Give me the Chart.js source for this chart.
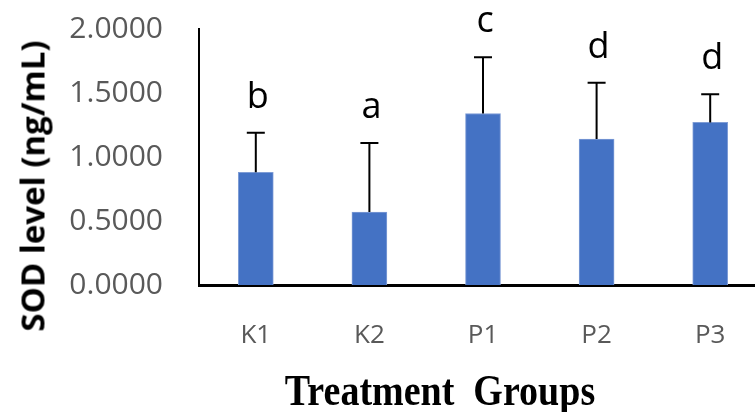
<!DOCTYPE html>
<html>
<head>
<meta charset="utf-8">
<script src="https://cdn.jsdelivr.net/npm/chart.js@4.4.1/dist/chart.umd.min.js"></script>
<style>
  html, body { margin: 0; padding: 0; background: #fff; }
  #wrap { position: relative; width: 755px; height: 412px; overflow: hidden; }
  #c { position: absolute; left: 0; top: 0; }
  .ytitle {
    position: absolute; left: 32px; top: 186px;
    transform: translate(-50%, -50%) rotate(-90deg);
    font-family: "Open Sans", sans-serif; font-weight: bold; font-size: 33px;
    color: #000; white-space: pre; line-height: 1;
  }
  .xtitle {
    position: absolute; left: 440px; top: 390px;
    transform: translate(-50%, -50%) scaleY(1.15);
    font-family: "Liberation Serif", "Times New Roman", serif; font-weight: bold; font-size: 38px;
    color: #000; white-space: pre; line-height: 1;
  }
</style>
</head>
<body>
<div id="wrap">
  <canvas id="c" width="770" height="412"></canvas>
  <div class="ytitle">SOD level (ng/mL)</div>
  <div class="xtitle">Treatment  Groups</div>
</div>
<script>
const categories = ["K1", "K2", "P1", "P2", "P3"];
const sodMeans = [0.88, 0.57, 1.34, 1.14, 1.27];
const sodErrors = [0.31, 0.54, 0.44, 0.44, 0.22];
const sigLetters = ["b", "a", "c", "d", "d"];
const yTicks = [0, 0.5, 1.0, 1.5, 2.0];

const errorBarPlugin = {
  id: "errorBars",
  afterDatasetsDraw(chart) {
    const ctx = chart.ctx;
    const xs = chart.scales.x, ys = chart.scales.y;
    ctx.save();
    ctx.strokeStyle = "#000";
    ctx.lineWidth = 2;
    sodMeans.forEach((v, i) => {
      const x = xs.getPixelForValue(i);
      const y0 = ys.getPixelForValue(v);
      const y1 = ys.getPixelForValue(v + sodErrors[i]);
      ctx.beginPath();
      ctx.moveTo(x, y0);
      ctx.lineTo(x, y1);
      ctx.moveTo(x - 9, y1);
      ctx.lineTo(x + 9, y1);
      ctx.stroke();
      ctx.fillStyle = "#000";
      ctx.font = '36px "Open Sans", sans-serif';
      ctx.textAlign = "center";
      ctx.textBaseline = "alphabetic";
      ctx.fillText(sigLetters[i], x + 2, y1 - 25);
    });
    ctx.restore();
  }
};

new Chart(document.getElementById("c"), {
  type: "bar",
  data: {
    labels: categories,
    datasets: [{
      data: sodMeans,
      backgroundColor: "#4472C4",
      borderColor: "#7F9DD6",
      borderWidth: { top: 1, left: 1, right: 1, bottom: 0 },
      barThickness: 35
    }]
  },
  options: {
    responsive: false,
    animation: false,
    events: [],
    layout: { padding: { left: 0, right: 3, top: 29, bottom: 0 } },
    plugins: { legend: { display: false }, tooltip: { enabled: false } },
    scales: {
      x: {
        grid: { display: false, drawTicks: false },
        border: { display: true, color: "#000", width: 3 },
        ticks: {
          color: "#595959",
          font: { family: "Open Sans", size: 26 },
          padding: 35
        },
        afterFit(scale) { scale.height = 127; scale.paddingLeft = 0; scale.paddingRight = 0; }
      },
      y: {
        min: 0, max: 2,
        grid: { display: false, drawTicks: false },
        border: { display: true, color: "#000", width: 2 },
        afterBuildTicks(scale) { scale.ticks = yTicks.map(v => ({ value: v })); },
        ticks: {
          color: "#595959",
          font: { family: "Open Sans", size: 30 },
          padding: 36,
          callback: v => Number(v).toFixed(4)
        },
        afterFit(scale) { scale.width = 199; scale.paddingTop = 0; scale.paddingBottom = 0; }
      }
    }
  },
  plugins: [errorBarPlugin]
});
</script>
</body>
</html>
